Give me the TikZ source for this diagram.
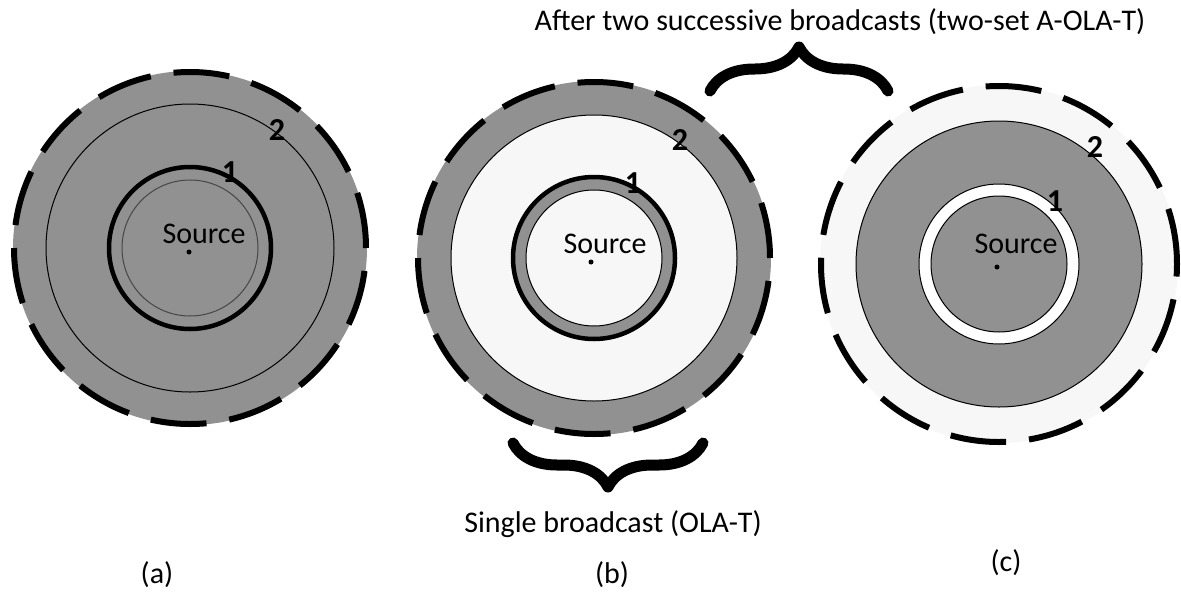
\documentclass[tikz,border=0pt]{standalone}
\usepackage{fontspec}
\setmainfont{Carlito}
\usetikzlibrary{decorations.pathreplacing}
\definecolor{zone}{RGB}{145,145,145}
\definecolor{pale}{RGB}{247,247,247}
\definecolor{ringline}{RGB}{70,70,70}
\begin{document}
\begin{tikzpicture}[x=1pt,y=-1pt,
  outer/.style={line width=6pt, dash pattern=on 56pt off 23pt},
  thinring/.style={line width=1pt},
  thickring/.style={line width=4.5pt},
  lbl/.style={font=\fontsize{30}{36}\selectfont, inner sep=0pt},
  num/.style={font=\fontsize{32}{38}\selectfont\bfseries, inner sep=0pt},
  bigbrace/.style={decorate, decoration={brace, amplitude=44pt}, line width=11pt, line cap=round, line join=round},
  srcdot/.style={circle, fill=black, inner sep=0pt, minimum size=5pt}]
\useasboundingbox (0,0) rectangle (1181,592);
\fill[white] (0,0) rectangle (1181,592);

% ---------- (a)
\coordinate (ca) at (190,248);
\fill[zone] (ca) circle (177pt);
\draw[outer] (ca) circle (176pt);
\draw[thinring] (ca) circle (144pt);
\draw[thickring] (ca) circle (81pt);
\draw[thinring, ringline] (ca) circle (68pt);
\node[srcdot] (da) at (189,252) {};
\node[lbl, anchor=base] (sa) at (204,243) {Source};
\node[num] (n1a) at (230,172) {1};
\node[num] (n2a) at (277,130) {2};

% ---------- (b)
\coordinate (cb) at (594,258);
\fill[zone] (cb) circle (177pt);
\draw[outer] (cb) circle (176pt);
\filldraw[fill=pale, thinring] (cb) circle (143pt);
\filldraw[fill=zone, thickring] (cb) circle (81pt);
\filldraw[fill=pale, thinring] (cb) circle (68pt);
\node[srcdot] (db) at (591,262) {};
\node[lbl, anchor=base] (sb) at (605,253) {Source};
\node[num] (n1b) at (633,183) {1};
\node[num] (n2b) at (680,140) {2};

% ---------- (c)
\coordinate (cc) at (999,264);
\fill[pale] (cc) circle (179pt);
\draw[outer] (cc) circle (178pt);
\filldraw[fill=zone, thinring] (cc) circle (143pt);
\filldraw[fill=white, thinring] (cc) circle (80pt);
\filldraw[fill=zone, thinring] (cc) circle (68pt);
\node[srcdot] (dc) at (997,267) {};
\node[lbl, anchor=base] (sc) at (1016,253) {Source};
\node[num] (n1c) at (1055,201) {1};
\node[num] (n2c) at (1095,147) {2};

% ---------- braces and captions
\coordinate (tb1) at (710,91);
\coordinate (tb2) at (888,91);
\draw[bigbrace] (tb1) -- (tb2);
\node[lbl] (top) at (840,22) {After two successive broadcasts (two-set A-OLA-T)};

\coordinate (bb1) at (703,443);
\coordinate (bb2) at (513,443);
\draw[bigbrace] (bb1) -- (bb2);
\node[lbl] (single) at (613,524) {Single broadcast (OLA-T)};

\node[lbl] (la) at (157,575) {(a)};
\node[lbl] (lb) at (612,575) {(b)};
\node[lbl] (lc) at (1006,563) {(c)};
\end{tikzpicture}
\end{document}
